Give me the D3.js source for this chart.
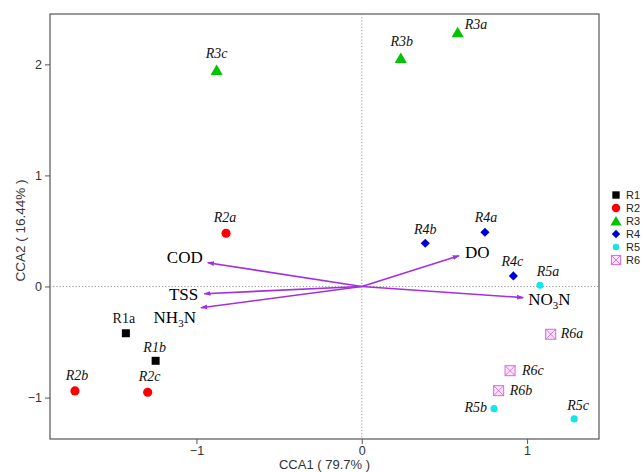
<!DOCTYPE html>
<html><head><meta charset="utf-8">
<script src="https://cdn.jsdelivr.net/npm/d3@7"></script>
<style>body{margin:0;background:#fff;}svg{display:block;}</style>
</head><body>
<svg id="c" width="643" height="472"></svg>
<script>
// ---- data ----
const groups = ["R1","R2","R3","R4","R5","R6"];
const sampleNames = ["R1a","R1b","R2a","R2b","R2c","R3a","R3b","R3c","R4a","R4b","R4c","R5a","R5b","R5c","R6a","R6b","R6c"];
const sampleGroup = ["R1","R1","R2","R2","R2","R3","R3","R3","R4","R4","R4","R5","R5","R5","R6","R6","R6"];
const cca1 = [-1.427,-1.247,-0.821,-1.735,-1.295,0.580,0.236,-0.878,0.745,0.384,0.917,1.078,0.800,1.285,1.143,0.828,0.897];
const cca2 = [-0.421,-0.669,0.479,-0.940,-0.952,2.288,2.057,1.949,0.488,0.389,0.095,0.011,-1.100,-1.192,-0.430,-0.938,-0.758];
const envNames = ["COD","TSS","NH3N","DO","NO3N"];
const envX = [-0.932,-0.953,-0.973,0.588,0.977];
const envY = [0.214,-0.065,-0.191,0.277,-0.100];
const xTicks = [-1,0,1];
const yTicks = [-1,0,1,2];
const xTitle = "CCA1 ( 79.7% )";
const yTitle = "CCA2 ( 16.44% )";

// ---- layout / style ----
const L=50, R=599, T=14, B=439;
const svg = d3.select("#c");
const x = d3.scaleLinear().domain([-1.886,1.435]).range([L,R]);
const y = d3.scaleLinear().domain([-1.373,2.453]).range([B,T]);
const colors = {R1:"#000000",R2:"#ff0000",R3:"#00c400",R4:"#0000d8",R5:"#14e4ec",R6:"#dd66dd"};
const arrowCol = "#a22fe0";
const serif = "'Liberation Serif','Times New Roman',serif";
const sans = "'Liberation Sans',Arial,sans-serif";

// label offsets (layout)
const labelPos = {
  R1a:{dx:-2,dy:-10,a:"middle",it:false},
  R1b:{dx:-1,dy:-9,a:"middle"}, R2a:{dx:-1,dy:-11,a:"middle"},
  R2b:{dx:2,dy:-11,a:"middle"}, R2c:{dx:2,dy:-11,a:"middle"},
  R3a:{dx:7,dy:-3,a:"start"}, R3b:{dx:1,dy:-12,a:"middle"}, R3c:{dx:0,dy:-12,a:"middle"},
  R4a:{dx:1,dy:-10,a:"middle"}, R4b:{dx:0,dy:-9,a:"middle"}, R4c:{dx:-1,dy:-10,a:"middle"},
  R5a:{dx:8,dy:-9,a:"middle"}, R5b:{dx:-7,dy:3,a:"end"}, R5c:{dx:4,dy:-9,a:"middle"},
  R6a:{dx:10,dy:4,a:"start"}, R6b:{dx:11,dy:4,a:"start"}, R6c:{dx:12,dy:4,a:"start"}
};
const envLabelPos = {
  COD:{dx:-5,dy:0,a:"end"}, TSS:{dx:-6,dy:6,a:"end"}, NH3N:{dx:-5,dy:15,a:"end"},
  DO:{dx:6,dy:2,a:"start"}, NO3N:{dx:5,dy:7,a:"start"}
};

// frame
svg.append("rect").attr("x",L).attr("y",T).attr("width",R-L).attr("height",B-T)
  .attr("fill","none").attr("stroke","#555").attr("stroke-width",1.2);

// zero lines
svg.append("line").attr("x1",L).attr("x2",R).attr("y1",y(0)).attr("y2",y(0))
  .attr("stroke","#999").attr("stroke-dasharray","1.2,2").attr("stroke-width",1);
svg.append("line").attr("x1",x(0)).attr("x2",x(0)).attr("y1",T).attr("y2",B)
  .attr("stroke","#999").attr("stroke-dasharray","1.2,2").attr("stroke-width",1);

// axes
const xa = svg.append("g").attr("transform",`translate(0,${B})`)
  .call(d3.axisBottom(x).tickValues(xTicks).tickSize(5).tickPadding(2).tickFormat(d3.format("d")));
const ya = svg.append("g").attr("transform",`translate(${L},0)`)
  .call(d3.axisLeft(y).tickValues(yTicks).tickSize(5).tickPadding(3).tickFormat(d3.format("d")));
[xa,ya].forEach(g=>{
  g.select(".domain").remove();
  g.selectAll("line").attr("stroke","#555");
  g.selectAll("text").attr("font-family",sans).attr("font-size",12.5).attr("fill","#333");
});

svg.append("text").attr("x",(L+R)/2).attr("y",469).attr("text-anchor","middle")
  .attr("font-family",sans).attr("font-size",13).attr("fill","#333").text(xTitle);
svg.append("text").attr("transform",`translate(25,${(T+B)/2+4}) rotate(-90)`).attr("text-anchor","middle")
  .attr("font-family",sans).attr("font-size",13.5).attr("fill","#333").text(yTitle);

// arrows
svg.append("defs").append("marker").attr("id","ah").attr("viewBox","0 0 10 10")
  .attr("refX",9).attr("refY",5).attr("markerWidth",7).attr("markerHeight",7)
  .attr("markerUnits","userSpaceOnUse").attr("orient","auto")
  .append("path").attr("d","M0,1.5 L10,5 L0,8.5 Z").attr("fill",arrowCol);

envNames.forEach((n,i)=>{
  svg.append("line").attr("x1",x(0)).attr("y1",y(0)).attr("x2",x(envX[i])).attr("y2",y(envY[i]))
    .attr("stroke",arrowCol).attr("stroke-width",1.6).attr("marker-end","url(#ah)");
  const p = envLabelPos[n];
  const t = svg.append("text").attr("x",x(envX[i])+p.dx).attr("y",y(envY[i])+p.dy)
    .attr("text-anchor",p.a).attr("font-family",serif).attr("font-size",17).attr("fill","#000");
  if (n.endsWith("3N")) {
    t.append("tspan").text(n.slice(0,2));
    t.append("tspan").attr("font-size",11).attr("dy",4).text("3");
    t.append("tspan").attr("dy",-4).text("N");
  } else t.text(n);
});

// marker drawing
function drawMarker(g, grp, cx, cy, scale){
  const s = scale||1;
  const c = colors[grp];
  if (grp==="R6"){
    const h = 5*s;
    g.append("rect").attr("x",cx-h).attr("y",cy-h).attr("width",2*h).attr("height",2*h)
      .attr("fill","#fbe6fb").attr("stroke",c).attr("stroke-width",1);
    g.append("path").attr("d",`M${cx-h},${cy-h}L${cx+h},${cy+h}M${cx+h},${cy-h}L${cx-h},${cy+h}`)
      .attr("stroke",c).attr("stroke-width",0.9);
    return;
  }
  const types = {R1:[d3.symbolSquare,64],R2:[d3.symbolCircle,66],R3:[d3.symbolTriangle,64],
                 R4:[d3.symbolSquare,42],R5:[d3.symbolCircle,40]};
  const [ty,sz] = types[grp];
  const dy = grp==="R3" ? 1.5*s : 0;
  const rot = grp==="R4" ? " rotate(45)" : "";
  g.append("path").attr("d",d3.symbol().type(ty).size(sz*s*s)()).attr("fill",c)
    .attr("transform",`translate(${cx},${cy+dy})${rot}`);
}

// points
const pg = svg.append("g");
sampleNames.forEach((n,i)=>{
  const px = x(cca1[i]), py = y(cca2[i]);
  drawMarker(pg, sampleGroup[i], px, py, 1);
  const p = labelPos[n];
  pg.append("text").attr("x",px+p.dx).attr("y",py+p.dy).attr("text-anchor",p.a)
    .attr("font-family",serif).attr("font-size",14).attr("font-style",p.it===false?"normal":"italic")
    .attr("fill","#111").text(n);
});

// legend
const lg = svg.append("g");
groups.forEach((gname,i)=>{
  const ly = 195 + i*13;
  drawMarker(lg, gname, 616, ly, 0.92);
  lg.append("text").attr("x",626).attr("y",ly+4).attr("font-family",sans).attr("font-size",11)
    .attr("fill","#222").text(gname);
});
</script>
</body></html>
